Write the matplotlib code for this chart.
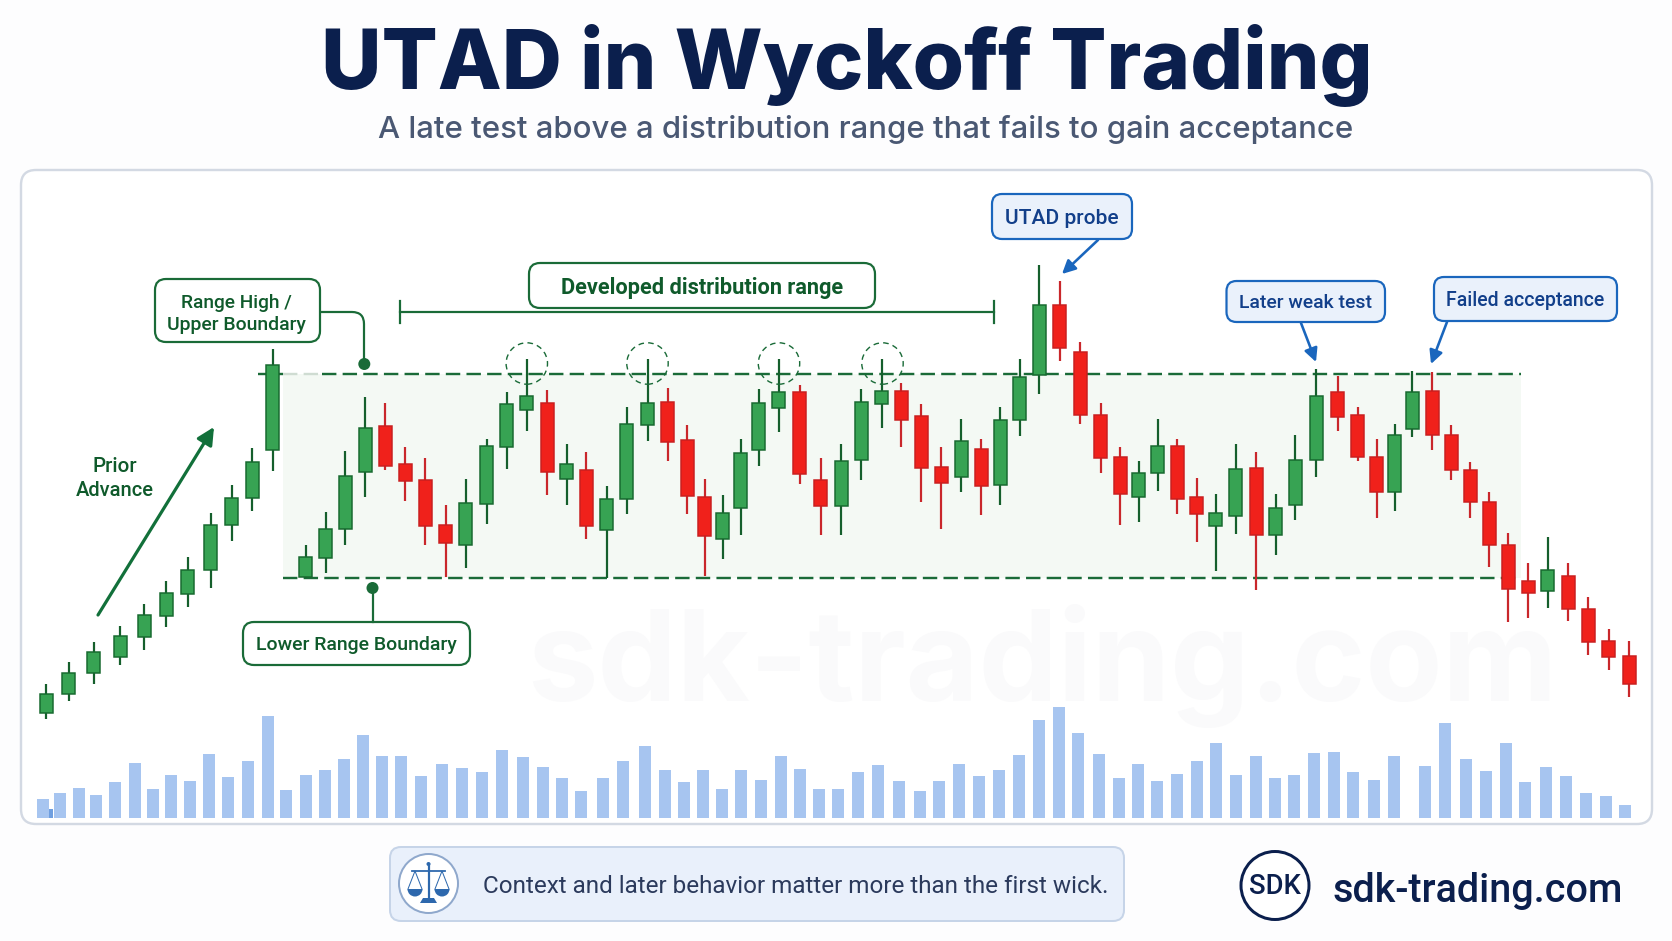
import matplotlib
matplotlib.use("Agg")
import matplotlib.pyplot as plt
from matplotlib.patches import FancyBboxPatch, FancyArrowPatch, Circle, PathPatch, Polygon, Wedge
from matplotlib.path import Path

# Candle series: position along the session axis, then open / high / low / close
candle_x = [46.4, 68.6, 93.9, 120, 144.3, 166, 187.9, 210.7, 231.8, 252.1, 272.9,
            305.7, 325.7, 345.4, 365.4, 385.4, 405.4, 425.4, 445.7, 465.7, 486.8, 506.8, 526.8, 547.1, 566.8,
            586.1, 606.8, 626.8, 647.5, 667.5, 687.1, 704.6, 722.5, 740.7, 758.9, 778.9, 799.6, 820.7, 841.1,
            861.4, 881.8, 901.4, 921.1, 941.1, 961.1, 981.1, 1000, 1019.6, 1039.3, 1059.6, 1080.4, 1100.7,
            1120.1, 1138.7, 1157.6, 1177.3, 1196.7, 1215.6, 1235.7, 1256.1, 1275.5, 1295.2, 1316, 1337.5,
            1357.9, 1376.5, 1394.8, 1412, 1432, 1451, 1470, 1489.3, 1508.3, 1528, 1547.6, 1568.1, 1588.1,
            1608.6, 1629]
highs = [257, 279.3, 299.3, 315, 336.7, 360, 383.7, 428.3, 456, 492.7, 591.7,
         395.7, 429.3, 490, 544.3, 537.7, 494, 482.7, 436.3, 461.7, 501.7, 549.3, 581.7, 551.3, 497.3,
         489.3, 455, 534.3, 581.7, 553.3, 516.3, 462.3, 446, 501.7, 552, 581.7, 556, 482.7, 497,
         551.7, 581.7, 557.7, 537.3, 493.7, 521.7, 502, 533.7, 582.3, 676, 659.7, 599, 537.7,
         494.3, 480, 521.7, 502.3, 463.3, 447, 496.7, 489, 447, 506, 571.7, 565.3,
         534.3, 502, 517.3, 570.3, 569.3, 516.3, 478.7, 448.7, 407.7, 378, 404.3, 378, 343.7,
         312, 300.3]
lows = [222, 240, 256.7, 276.3, 291.3, 313.7, 333.7, 353.3, 399.7, 430, 470,
        362.7, 367.7, 396, 444.3, 471, 440.3, 396.3, 363.7, 373, 417, 472, 510.3, 445.7, 436.3,
        402, 362.7, 427, 500, 479.7, 427, 365.3, 382, 405.7, 475, 508.7, 456.7, 405.7, 406.3,
        461, 513, 494.3, 439, 412.3, 449, 426.3, 436.3, 504.7, 547.3, 580.3, 517, 467.7,
        416, 418.7, 450.3, 426.7, 399, 370.3, 406.7, 350.7, 386, 420.7, 464, 510.3,
        479.7, 422.7, 430, 504.3, 490.7, 460.7, 423.3, 374.3, 318.7, 323, 333.3, 319.7, 286,
        271, 244.3]
opens = [227.7, 247, 267.7, 284.3, 304, 325.3, 347.3, 370.7, 416.3, 442.7, 491,
         363.7, 383.3, 412, 468.7, 515.3, 477, 461.3, 416.3, 395.7, 436.7, 494.3, 531, 538, 462.3,
         471.3, 411.3, 442.3, 515.7, 538.7, 501.3, 444, 402, 433.3, 491, 532.7, 549, 461.3, 435.3,
         480.7, 536.7, 550, 525, 474, 463.7, 492, 455.7, 521.3, 565.7, 636.3, 588.7, 526.3,
         484, 444, 467.7, 495, 444, 415.3, 425.3, 472.7, 406, 436.3, 480.7, 549,
         526, 484.3, 449.3, 512.3, 550, 506, 471, 439, 396, 359.7, 350, 364.7, 332.3,
         299.7, 285]
closes = [247, 268.3, 289, 304.7, 325.7, 348.3, 371.3, 416.3, 443, 479.3, 576.3,
          383.7, 412.3, 465.3, 513.3, 475.3, 460.3, 415, 398.3, 437.7, 495, 537, 545.3, 469, 477,
          415.3, 442, 517, 538, 499.3, 445, 405.3, 427.7, 488, 537.7, 548.7, 467, 435.3, 479.7,
          539.3, 550.3, 521, 472.7, 457.7, 499.7, 455.3, 520.7, 564.3, 636, 592.7, 525.7, 483,
          446.7, 468, 495.3, 442.3, 426.7, 428, 472.3, 405.7, 433.3, 481.3, 545.3, 523.7,
          484.3, 449.3, 506, 548.7, 506, 470.7, 438.7, 395.7, 352, 348.3, 371, 332, 298.7,
          284.3, 256.7]

# Volume series
volume_x = [42.5, 60.3, 78.6, 96.4, 114.7, 134.5, 152.8, 171.2, 190, 208.8, 227.6, 248, 267.9, 285.7,
            305.6, 324.9, 343.7, 362.6, 381.9, 401.3, 421.2, 441.5, 461.9, 481.8, 502.2, 522.6, 542.5,
            561.8, 581.2, 602.6, 623, 645, 664.9, 683.7, 703, 722.4, 741.2, 760.6, 781, 799.8, 818.6,
            838, 857.5, 877.7, 898.9, 919.6, 939.2, 959.4, 979, 999.2, 1019.3, 1038.9, 1058.6, 1078.2,
            1098.9, 1118.5, 1137.6, 1157.2, 1176.9, 1197, 1216.1, 1235.8, 1255.9, 1275, 1294.1, 1313.7,
            1334.4, 1353, 1373.7, 1393.8, 1424.6, 1445.3, 1465.5, 1485.6, 1505.8, 1525.4, 1545.6,
            1565.7, 1585.9, 1605.5, 1625.2]
volumes = [18.7, 24.7, 30.3, 23, 35.7, 54.7, 29, 42.7, 37, 64, 41.3, 56.7, 101.7, 27.7,
           43, 48, 59, 82.7, 62.3, 62.3, 42.3, 54, 50, 46.3, 68.3, 61, 50.7,
           40, 27.3, 40.3, 57.3, 72, 48, 36.3, 48, 29, 48, 38.3, 62, 48.7, 29,
           29, 45.7, 52.7, 36.7, 27.3, 37, 54.3, 42.3, 48.3, 63, 97.7, 110.7, 85,
           64, 40, 54, 36.7, 44, 57, 75.3, 42.7, 61.7, 40, 42.7, 65.3,
           66, 45.7, 38, 61.7, 51.7, 94.7, 59, 47.3, 75.3, 35.7, 50.7,
           41.7, 25.3, 22, 13.3]

# Distribution range levels
range_high = 567
range_low = 363

# Tops probed around the upper boundary, marked with dashed rings
ring_x = [526.8, 647.5, 779, 882.5]
ring_level = 577.5

TITLE = "UTAD in Wyckoff Trading"
SUBTITLE = "A late test above a distribution range that fails to gain acceptance"
FOOTNOTE = "Context and later behavior matter more than the first wick."
SITE = "sdk-trading.com"

W, H = 1672, 941
GREEN_EDGE = "#17692f"
GREEN_FILL = "#37a353"
GREEN_WICK = "#155f2c"
RED_EDGE = "#c91f1f"
RED_FILL = "#f0211b"
RED_WICK = "#c9272b"
LINE_GREEN = "#1a6b38"
TEXT_GREEN = "#0f5a2b"
BLUE = "#1a66bd"
BLUE_TEXT = "#123f8a"
NAVY = "#0b1f4d"
PX = 0.72  # one pixel in points at dpi=100
LABEL_FONT = ["Roboto", "DejaVu Sans"]

plt.rcParams["font.family"] = ["Inter", "Roboto", "DejaVu Sans"]
fig = plt.figure(figsize=(W / 100, H / 100), dpi=100, facecolor="#fdfdfe")


def make_axes(z, ylim):
    a = fig.add_axes([0, 0, 1, 1], zorder=z)
    a.set_xlim(0, W)
    a.set_ylim(*ylim)
    a.axis("off")
    a.patch.set_alpha(0)
    return a


back = make_axes(0, (H, 0))
price = make_axes(1, (0, H))
over = make_axes(3, (H, 0))
vol_ax = fig.add_axes([0, (H - 818) / H, 1, 120 / H], zorder=2)
vol_ax.set_xlim(0, W)
vol_ax.set_ylim(0, 120)
vol_ax.axis("off")
vol_ax.patch.set_alpha(0)


def fit_text(axis, x, y, s, width, **kw):
    """Place text, scaling its size so that it spans the given pixel width."""
    t = axis.text(x, y, s, va="center", **kw)
    r = fig.canvas.get_renderer()
    t.set_fontsize(t.get_fontsize() * width / t.get_window_extent(r).width)
    return t


def rbox(axis, x0, y0, x1, y1, r, fc, ec, lw):
    axis.add_patch(FancyBboxPatch((x0, y0), x1 - x0, y1 - y0,
                                  boxstyle=f"round,pad=0,rounding_size={r}",
                                  fc=fc, ec=ec, lw=lw * PX))


# Header
fit_text(back, 846.5, 65.5, TITLE, 1053, ha="center", color=NAVY, fontweight="heavy", fontsize=70)
fit_text(back, 866, 129.5, SUBTITLE, 976, ha="center", color="#4a5873", fontweight="medium", fontsize=30)

# Chart card and watermark
rbox(back, 21, 170, 1652, 824, 15, "white", "#d3d9e3", 2.4)
fit_text(back, 1042, 666, SITE, 1030, ha="center", color="#fafafb", fontweight="bold", fontsize=120)

# Distribution range band and its boundaries
price.fill_between([282.5, 1521], range_low, range_high, color="#f4f9f4", lw=0, zorder=1)
price.plot([257.5, 283], [range_high, range_high], color=LINE_GREEN, lw=2.4 * PX, dashes=(6, 2.6), zorder=2)
price.plot([283, 322], [range_high, range_high], color="#cfdcd2", lw=2.4 * PX, dashes=(6, 2.6), zorder=2)
price.plot([322, 1521], [range_high, range_high], color=LINE_GREEN, lw=2.4 * PX, dashes=(6, 2.6), zorder=2)
price.plot([282.5, 1521], [range_low, range_low], color=LINE_GREEN, lw=2.4 * PX, dashes=(6, 2.6), zorder=2)

# Candles
for x, o, h, l, c in zip(candle_x, opens, highs, lows, closes):
    up = c >= o
    price.vlines(x, l, h, color=GREEN_WICK if up else RED_WICK, lw=2.2 * PX, zorder=3)
    price.bar(x, abs(c - o), 13, bottom=min(o, c), color=GREEN_FILL if up else RED_FILL,
              edgecolor=GREEN_EDGE if up else RED_EDGE, linewidth=1.5 * PX, zorder=4)

# Volume
vol_ax.bar(volume_x, volumes, 12, color="#a7c5f0", lw=0)
vol_ax.bar([51.4], [9], 4, color="#6f9fe0", lw=0)

# Rings over the probes of the upper boundary
for x in ring_x:
    price.add_patch(Circle((x, ring_level), 20.7, fc="none", ec=LINE_GREEN, lw=1.4 * PX,
                           ls=(0, (4, 3)), zorder=5))

# Prior advance arrow and label
label_kw = dict(ha="center", color=TEXT_GREEN, fontweight="medium", fontsize=20, family=LABEL_FONT)
over.add_patch(FancyArrowPatch((98, 615), (214, 427), arrowstyle="-|>", mutation_scale=26,
                               color="#12703a", lw=3.2 * PX, shrinkA=0, shrinkB=0))
fit_text(over, 115, 466, "Prior", 45, **label_kw)
fit_text(over, 115, 490.5, "Advance", 78, **label_kw)

# Green callouts
rbox(over, 155, 279, 320, 342, 11, "white", LINE_GREEN, 2.2)
fit_text(over, 236, 303, "Range High /", 111, **label_kw)
fit_text(over, 236, 325.5, "Upper Boundary", 139, **label_kw)
over.add_patch(PathPatch(Path([(320, 312), (352, 312), (364, 312), (364, 324), (364, 364)],
                              [Path.MOVETO, Path.LINETO, Path.CURVE3, Path.CURVE3, Path.LINETO]),
                         fc="none", ec=LINE_GREEN, lw=2.2 * PX))
over.add_patch(Circle((364.3, 364), 6, fc=LINE_GREEN, ec="none"))

rbox(over, 243, 622, 470, 665, 11, "white", LINE_GREEN, 2.2)
fit_text(over, 356.5, 645, "Lower Range Boundary", 201, **label_kw)
over.plot([372.5, 372.5], [588, 622], color=LINE_GREEN, lw=2.2 * PX)
over.add_patch(Circle((372.5, 588), 6, fc=LINE_GREEN, ec="none"))

rbox(over, 529, 263, 875, 308, 11, "white", LINE_GREEN, 2.2)
fit_text(over, 702, 288, "Developed distribution range", 282, **{**label_kw, "fontweight": "bold"})
over.plot([400, 994], [312, 312], color=LINE_GREEN, lw=2.2 * PX)
over.plot([400, 400], [301, 323], color=LINE_GREEN, lw=2.2 * PX)
over.plot([994, 994], [301, 323], color=LINE_GREEN, lw=2.2 * PX)

# Blue callouts with arrows
blue_notes = [("UTAD probe", (992, 194, 1132, 239), (1098, 240), (1062, 274), 114),
              ("Later weak test", (1226.5, 281, 1385, 322), (1301, 323), (1316, 362), 133),
              ("Failed acceptance", (1434, 277, 1617, 321), (1447, 322), (1431, 364), 159)]
for label, (x0, y0, x1, y1), start, tip, tw in blue_notes:
    rbox(over, x0, y0, x1, y1, 10, "#eaf1fb", BLUE, 2.2)
    fit_text(over, (x0 + x1) / 2, (y0 + y1) / 2 + 2, label, tw, ha="center", color=BLUE_TEXT,
             fontweight="medium", fontsize=20, family=LABEL_FONT)
    over.add_patch(FancyArrowPatch(start, tip, arrowstyle="-|>", mutation_scale=20,
                                   color=BLUE, lw=2.6 * PX, shrinkA=0, shrinkB=0))

# Footer note with a small balance-scale emblem
rbox(back, 390, 847, 1124, 921, 11, "#e9f0fb", "#c6d4e8", 2)
back.add_patch(Circle((428.5, 883.5), 29.5, fc="white", ec="#8fa8cc", lw=2 * PX))
ICON = "#2d68ad"
back.plot([428.5, 428.5], [864, 899], color=ICON, lw=2.2 * PX)
back.plot([412, 445], [871, 871], color=ICON, lw=1.8 * PX)
back.add_patch(Circle((428.5, 864), 2, fc=ICON, ec="none"))
back.add_patch(Polygon([(420, 903), (437, 903), (434, 898), (423, 898)], fc=ICON, ec="none"))
for cx in (415, 442):
    back.plot([cx - 7, cx, cx + 7], [889, 871, 889], color=ICON, lw=1 * PX)
    back.add_patch(Wedge((cx, 889), 7.5, 0, 180, fc=ICON, ec="none"))
fit_text(back, 796, 886.5, FOOTNOTE, 626, ha="center", color="#2b3a5c", fontsize=24, family=LABEL_FONT)

# Brand mark
back.add_patch(Circle((1275, 885.5), 34, fc="white", ec=NAVY, lw=3 * PX))
fit_text(back, 1275, 887, "SDK", 52, ha="center", color=NAVY, fontweight="medium", fontsize=24, family=LABEL_FONT)
fit_text(back, 1478, 891, SITE, 290, ha="center", color=NAVY, fontweight="medium", fontsize=30, family=LABEL_FONT)

fig.savefig("out.png", dpi=100, facecolor=fig.get_facecolor())
